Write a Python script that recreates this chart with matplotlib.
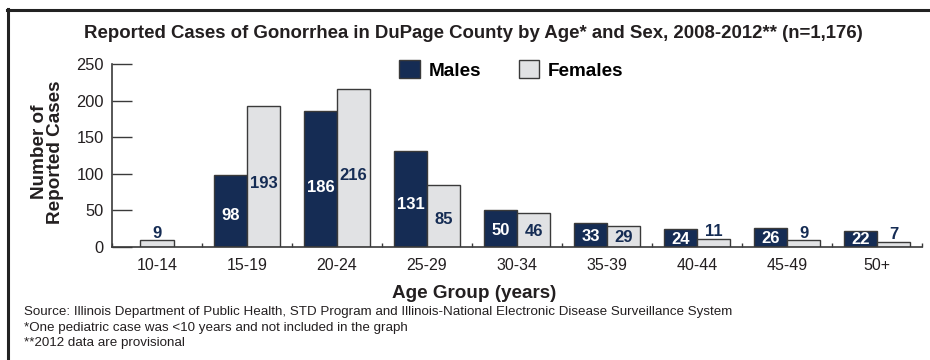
import matplotlib
matplotlib.use('Agg')
import matplotlib.pyplot as plt
from matplotlib.lines import Line2D
import numpy as np

plt.rcParams['font.family'] = ['Liberation Sans', 'DejaVu Sans']

# data
age_groups = ['10-14', '15-19', '20-24', '25-29', '30-34', '35-39', '40-44', '45-49', '50+']
males = [0, 98, 186, 131, 50, 33, 24, 26, 22]
females = [9, 193, 216, 85, 46, 29, 11, 9, 7]
y_ticks = [0, 50, 100, 150, 200, 250]

navy = '#152c54'
grey = '#e1e2e4'
edge = '#3a3a3a'
ink = '#231f20'

fig = plt.figure(figsize=(9.3, 3.6), dpi=100)
W, H = 930, 360
ax = fig.add_axes([112 / W, (H - 247) / H, 810 / W, 183 / H])

x = np.arange(len(age_groups))
bw = 0.367
for i in range(len(age_groups)):
    m = males[i]
    f = females[i]
    if m > 0:
        ax.bar(x[i] - bw / 2, m, bw, color=navy, edgecolor=edge, linewidth=1.0)
        ax.text(x[i] - bw / 2, m * 0.44, str(m), ha='center', va='center',
                color='white', fontsize=12, fontweight='bold')
        fx = x[i] + bw / 2
    else:
        fx = x[i]  # no male bar, female bar sits in the middle
    ax.bar(fx, f, bw, color=grey, edgecolor=edge, linewidth=1.0)
    if f >= 20:
        fy = f * 0.45
    else:
        fy = f + 9.5
    ax.text(fx, fy, str(f), ha='center', va='center', color=navy,
            fontsize=12, fontweight='bold')

ax.set_xlim(-0.5, len(age_groups) - 0.5)
ax.set_ylim(0, 250)
ax.set_yticks(y_ticks)
ax.set_xticks(x)
ax.set_xticklabels(age_groups)
ax.set_xticks(np.arange(-0.5, len(age_groups)), minor=True)
ax.tick_params(axis='x', which='major', length=0, pad=8, labelsize=11.5, labelcolor=ink)
ax.tick_params(axis='x', which='minor', direction='in', length=3, color=edge, width=1)
ax.tick_params(axis='y', direction='in', length=14.5, width=1, color=edge,
               pad=6, labelsize=11.8, labelcolor=ink)
for s in ['top', 'right']:
    ax.spines[s].set_visible(False)
for s in ['left', 'bottom']:
    ax.spines[s].set_color(edge)
    ax.spines[s].set_linewidth(1.2)

ax.set_xlabel('Age Group (years)', fontsize=13.6, fontweight='bold', color=ink)
ax.xaxis.set_label_coords((474 - 112) / 810, -(285 - 247) / 183)
ax.set_ylabel('Number of\nReported Cases', fontsize=13.6, fontweight='bold', color=ink,
              linespacing=0.95)
ax.yaxis.set_label_coords(-(112 - 64) / 810, (247 - 152) / 183)

handles = [plt.Rectangle((0, 0), 1, 1, facecolor=navy, edgecolor=edge),
           plt.Rectangle((0, 0), 1, 1, facecolor=grey, edgecolor=edge)]
fig.legend(handles, ['Males', 'Females'], loc='center left',
           bbox_to_anchor=(399 / W, 1 - 70 / H), ncol=2, frameon=False,
           prop={'size': 13.6, 'weight': 'bold'}, handlelength=1.1, handleheight=1.1,
           handletextpad=0.45, columnspacing=2.0, borderaxespad=0, borderpad=0)

fig.text(473 / W, 1 - 33 / H,
         'Reported Cases of Gonorrhea in DuPage County by Age* and Sex, 2008-2012** (n=1,176)',
         ha='center', va='center', fontsize=13.4, fontweight='bold', color=ink)

notes = ['Source: Illinois Department of Public Health, STD Program and Illinois-National Electronic Disease Surveillance System',
         '*One pediatric case was <10 years and not included in the graph',
         '**2012 data are provisional']
for k, line in enumerate(notes):
    fig.text(24 / W, 1 - (312 + k * 15.5) / H, line, ha='left', va='center',
             fontsize=9.6, color=ink)

# outer frame (runs off the right and bottom edges)
fig.add_artist(Line2D([8 / W, 8 / W], [0, 1 - 9 / H], color='#222222', lw=2.2,
                      transform=fig.transFigure))
fig.add_artist(Line2D([7 / W, 1], [1 - 9.5 / H, 1 - 9.5 / H], color='#222222', lw=2.2,
                      transform=fig.transFigure))

fig.savefig('out.png', dpi=100)
